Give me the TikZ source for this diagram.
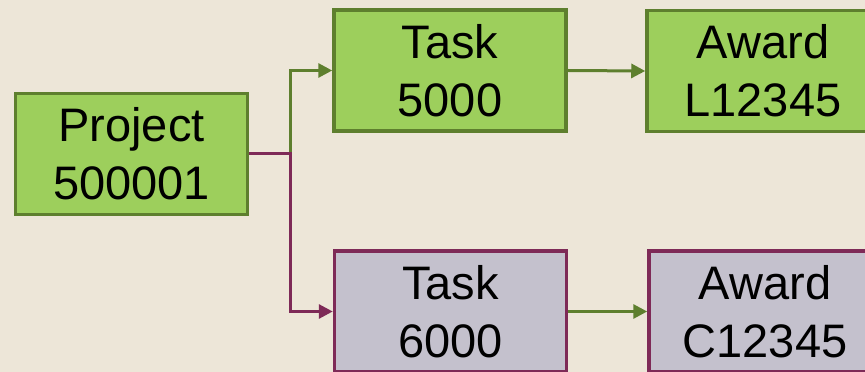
\documentclass[tikz,border=0pt]{standalone}
\usepackage{fontspec}
\setmainfont{Liberation Sans}
\usepackage{tikz}
\usetikzlibrary{arrows.meta}

\definecolor{bgbeige}{HTML}{EDE6D8}
\definecolor{boxgreen}{HTML}{9DCF5C}
\definecolor{darkgreen}{HTML}{5E7F2E}
\definecolor{boxgrey}{HTML}{C4C1CD}
\definecolor{maroon}{HTML}{7E2A57}

\tikzset{
  greenbox/.style={draw=darkgreen, fill=boxgreen, line width=3.5pt,
    minimum width=232pt, minimum height=121pt, inner sep=0pt,
    align=center, font=\fontsize{47}{58}\selectfont},
  greybox/.style={greenbox, draw=maroon, fill=boxgrey},
  greenline/.style={draw=darkgreen, line width=3pt,
    -{Triangle[length=14pt,width=14pt]}},
  redline/.style={greenline, draw=maroon}
}

\begin{document}
\begin{tikzpicture}[x=1pt,y=1pt]
    \useasboundingbox (0,0) rectangle (865,372);
    \fill[bgbeige] (0,0) rectangle (865,372);
    \clip (0,0) rectangle (865,372);

    \node[greenbox] (project) at (131.5,218) {Project\\500001};
    \node[greenbox] (task1)   at (450,301.5) {Task\\5000};
    \node[greenbox] (award1)  at (763,301)   {Award\\L12345};
    \node[greybox]  (task2)   at (450.5,60.5) {Task\\6000};
    \node[greybox]  (award2)  at (765,60.5)  {Award\\C12345};

    \draw[greenline] (project.east) -- ++(41,0) |- (task1.west);
    \draw[redline] (project.east) -- ++(41,0) |- (task2.west);
    \draw[greenline] (task1.east) -- (award1.west);
    \draw[greenline] (task2.east) -- (award2.west);
\end{tikzpicture}
\end{document}
